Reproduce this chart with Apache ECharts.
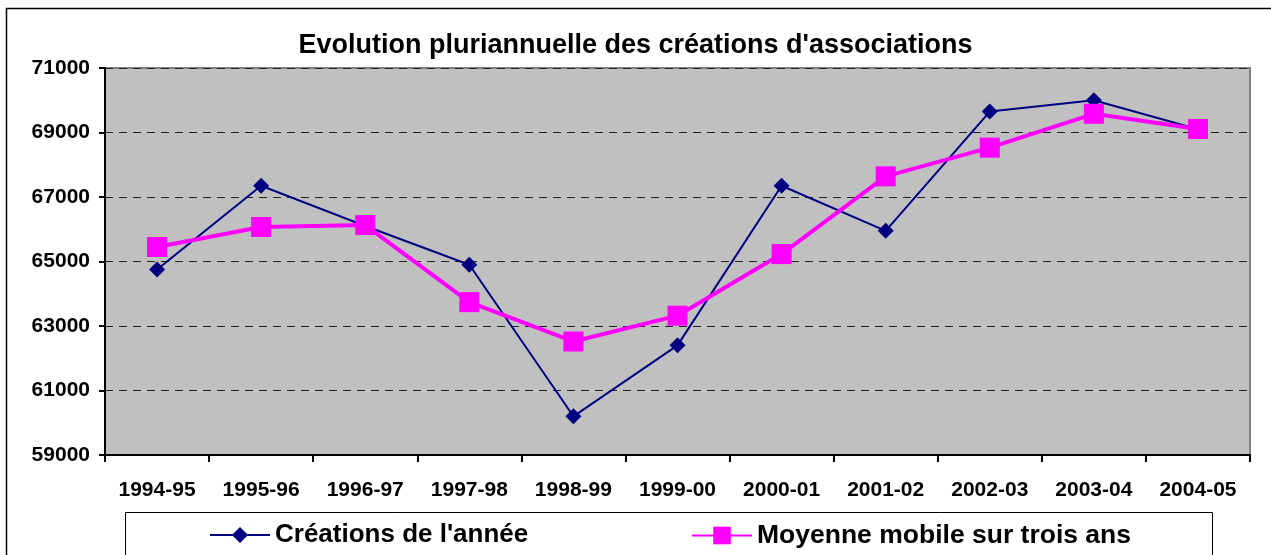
<!DOCTYPE html>
<html>
<head>
<meta charset="utf-8">
<script src="https://cdn.jsdelivr.net/npm/echarts@6/dist/echarts.min.js"></script>
<style>
html,body{margin:0;padding:0;background:#fff;}
#main{width:1271px;height:555px;}
</style>
</head>
<body>
<div id="main"></div>
<script>
var categories = ['1994-95','1995-96','1996-97','1997-98','1998-99','1999-00','2000-01','2001-02','2002-03','2003-04','2004-05'];
var creations = [64750, 67350, 66100, 64900, 60200, 62400, 67350, 65950, 69650, 70000, 69100];
var moyenne = [65450, 66070, 66130, 63740, 62520, 63320, 65230, 67640, 68530, 69580, 69110];
var yTicks = { min: 59000, max: 71000, step: 2000 };

var chart = echarts.init(document.getElementById('main'));
var font = 'Liberation Sans, Arial, sans-serif';

var option = {
	backgroundColor: '#ffffff',
	animation: false,
	title: {
		text: "Evolution pluriannuelle des créations d'associations",
		left: 'center',
		top: 27,
		textStyle: { fontFamily: font, fontSize: 27, fontWeight: 'bold', color: '#000' }
	},
	graphic: [
		{ type: 'rect', shape: { x: 6.5, y: 8.5, width: 1300, height: 600 }, style: { fill: 'none', stroke: '#000', lineWidth: 1.5 }, silent: true },
		{ type: 'rect', shape: { x: 125.5, y: 512.5, width: 1087, height: 60 }, style: { fill: '#fff', stroke: '#000', lineWidth: 1 }, silent: true, z: -1 }
	],
	legend: [
		{
			data: ["Créations de l'année"],
			left: 204, top: 517,
			itemWidth: 60, itemHeight: 20,
			textStyle: { fontFamily: font, fontSize: 26, fontWeight: 'bold', color: '#000' }
		},
		{
			data: ['Moyenne mobile sur trois ans'],
			left: 686, top: 517,
			itemWidth: 60, itemHeight: 22,
			textStyle: { fontFamily: font, fontSize: 26.5, fontWeight: 'bold', color: '#000' }
		}
	],
	grid: {
		left: 105, right: 21, top: 68, bottom: 100,
		show: true, backgroundColor: '#c0c0c0', borderColor: '#808080', borderWidth: 2
	},
	xAxis: {
		type: 'category',
		data: categories,
		boundaryGap: true,
		axisLine: { lineStyle: { color: '#000', width: 2 } },
		axisTick: { show: true, length: 7, lineStyle: { color: '#000', width: 2 } },
		axisLabel: { margin: 25, fontFamily: font, fontSize: 21, fontWeight: 'bold', color: '#000' },
		splitLine: { show: false }
	},
	yAxis: {
		type: 'value',
		min: yTicks.min, max: yTicks.max, interval: yTicks.step,
		axisLine: { show: true, lineStyle: { color: '#000', width: 2 } },
		axisTick: { show: true, length: 6, lineStyle: { color: '#000', width: 2 } },
		axisLabel: {
			margin: 15, fontFamily: font, fontSize: 21, fontWeight: 'bold', color: '#000',
			formatter: function(v){ return String(v); }
		},
		splitLine: { show: true, lineStyle: { color: '#222', type: [8, 6], width: 1 } }
	},
	series: [
		{
			name: "Créations de l'année",
			type: 'line',
			data: creations,
			symbol: 'diamond', symbolSize: 16,
			itemStyle: { color: '#000080' },
			lineStyle: { color: '#000080', width: 2 },
			z: 3
		},
		{
			name: 'Moyenne mobile sur trois ans',
			type: 'line',
			data: moyenne,
			symbol: 'rect', symbolSize: 20,
			itemStyle: { color: '#ff00ff' },
			lineStyle: { color: '#ff00ff', width: 4 },
			z: 4
		}
	]
};
chart.setOption(option);
</script>
</body>
</html>
